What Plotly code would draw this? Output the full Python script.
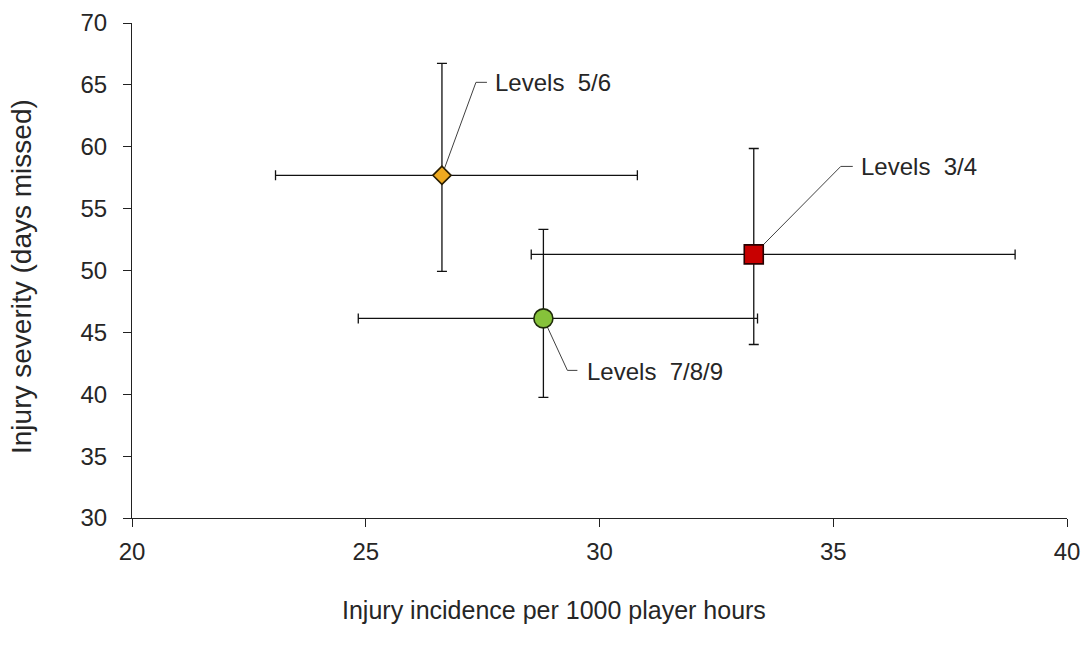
import plotly.graph_objects as go

# Data
labels = ["Levels  3/4", "Levels  5/6", "Levels  7/8/9"]
incidence = [33.30, 26.63, 28.80]
incidence_low = [28.54, 23.07, 24.84]
incidence_high = [38.89, 30.81, 33.38]
severity = [51.30, 57.69, 46.13]
severity_low = [44.02, 49.93, 39.74]
severity_high = [59.86, 66.74, 53.32]

x_ticks = [20, 25, 30, 35, 40]
y_ticks = [30, 35, 40, 45, 50, 55, 60, 65, 70]

# Styles
symbols = ["square", "diamond", "circle"]
fills = ["#C80000", "#EEA920", "#86C23A"]
edges = ["#2A0000", "#2A1E00", "#1E2A0A"]
sizes = [19, 14, 19]
# leader line offsets (pixels) and label offsets (pixels)
leaders = [[(0, 0), (87, 88), (99, 88)],
           [(0, 0), (34, 93), (45, 93)],
           [(0, 0), (24, -52), (34, -52)]]
label_shift = [(105, 88), (51, 93), (42, -53)]

FONT = "Liberation Sans, Arial, sans-serif"
TXT = "#262626"

fig = go.Figure()
fig.add_trace(go.Scatter(
    x=incidence, y=severity, mode="markers",
    marker=dict(symbol=symbols, color=fills, size=sizes, opacity=1,
                line=dict(color=edges, width=1.6)),
    error_x=dict(type="data", symmetric=False,
                 array=[h - v for h, v in zip(incidence_high, incidence)],
                 arrayminus=[v - l for v, l in zip(incidence, incidence_low)],
                 color="#111111", thickness=1.3, width=5),
    error_y=dict(type="data", symmetric=False,
                 array=[h - v for h, v in zip(severity_high, severity)],
                 arrayminus=[v - l for v, l in zip(severity, severity_low)],
                 color="#111111", thickness=1.3, width=5),
    showlegend=False, hoverinfo="skip",
))

for i, lab in enumerate(labels):
    pts = leaders[i]
    path = "M " + " L ".join(f"{px},{py}" for px, py in pts)
    fig.add_shape(type="path", xref="x", yref="y",
                  xsizemode="pixel", ysizemode="pixel",
                  xanchor=incidence[i], yanchor=severity[i],
                  path=path, line=dict(color="#404040", width=1),
                  layer="below")
    fig.add_annotation(x=incidence[i], y=severity[i], text=lab,
                       showarrow=False, xanchor="left", yanchor="middle",
                       xshift=label_shift[i][0], yshift=label_shift[i][1],
                       font=dict(family=FONT, size=24, color=TXT))

# axis titles
fig.add_annotation(xref="paper", yref="paper", x=0.451, y=-0.186,
                   text="Injury incidence per 1000 player hours",
                   showarrow=False, xanchor="center", yanchor="middle",
                   font=dict(family=FONT, size=25, color=TXT))
fig.add_annotation(xref="paper", yref="paper", x=-0.1176, y=0.487,
                   text="Injury severity (days missed)", textangle=-90,
                   showarrow=False, xanchor="center", yanchor="middle",
                   font=dict(family=FONT, size=28, color=TXT))

fig.update_xaxes(range=[20, 40], tickvals=x_ticks, ticktext=[str(v) for v in x_ticks],
                 showline=True, linecolor="#222222", linewidth=1.2,
                 ticks="outside", ticklen=8, tickcolor="#222222", tickwidth=1.2,
                 showgrid=False, zeroline=False, ticklabelstandoff=4,
                 tickfont=dict(family=FONT, size=24, color=TXT))
fig.update_yaxes(range=[30, 70], tickvals=y_ticks, ticktext=[str(v) for v in y_ticks],
                 showline=True, linecolor="#222222", linewidth=1.2,
                 ticks="outside", ticklen=8, tickcolor="#222222", tickwidth=1.2,
                 showgrid=False, zeroline=False, ticklabelstandoff=11,
                 tickfont=dict(family=FONT, size=24, color=TXT))

fig.update_layout(width=1084, height=645,
                  margin=dict(l=132, r=17, t=23, b=127, autoexpand=False),
                  paper_bgcolor="white", plot_bgcolor="white")

fig.write_html("out.html")
